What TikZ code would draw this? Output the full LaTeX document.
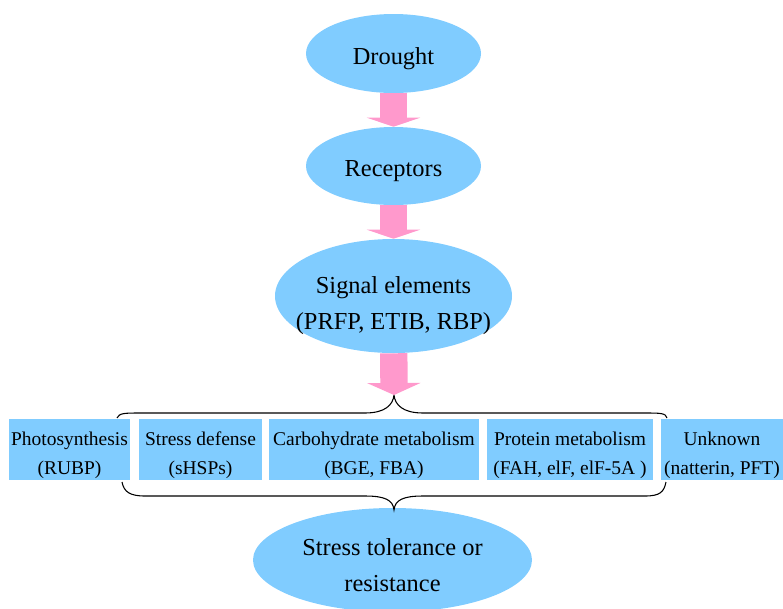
\documentclass[tikz,border=0pt]{standalone}
\usepackage{fontspec}
\setmainfont{Liberation Serif}
\usetikzlibrary{shapes.geometric,arrows.meta}
\definecolor{cellblue}{RGB}{128,204,255}
\definecolor{flowpink}{RGB}{255,153,204}
\begin{document}
\begin{tikzpicture}[x=0.75pt, y=-0.75pt,
  blob/.style={ellipse, fill=cellblue, inner sep=-40pt, align=center, text height=20pt, font=\fontsize{18.3}{27}\selectfont},
  cell/.style={rectangle, fill=cellblue, inner sep=0pt, minimum height=45.75pt, align=center, text height=40.75pt, font=\fontsize{14.6}{21.75}\selectfont},
  flow/.style={draw=flowpink, line width=20.5pt, -{Triangle[width=39.75pt, length=#1]}},
  flow/.default=6.75pt]
  \useasboundingbox (0,0) rectangle (783,608);
  \node[blob, minimum width=131.25pt, minimum height=59.25pt] (drought) at (393.5,53.5) {Drought};
  \node[blob, minimum width=131.25pt, minimum height=58.5pt] (receptors) at (393.5,166) {Receptors};
  \node[blob, minimum width=177.75pt, minimum height=85.5pt, text height=54.5pt] (signal) at (393.5,296) {Signal elements\\(PRFP, ETIB, RBP)};
  \node[blob, minimum width=209.25pt, minimum height=78pt, text height=47pt] (tolerance) at (392.5,560) {Stress tolerance or\\resistance};
  \node[cell, minimum width=90.75pt] (photo) at (69.5,449.5) {Photosynthesis\\(RUBP)};
  \node[cell, minimum width=92.25pt] (defense) at (200.5,449.5) {Stress defense\\(sHSPs)};
  \node[cell, minimum width=157.5pt] (carbo) at (374,449.5) {Carbohydrate metabolism\\(BGE, FBA)};
  \node[cell, minimum width=124.5pt] (protein) at (570,449.5) {Protein metabolism\\(FAH, elF, elF-5A )};
  \node[cell, minimum width=91.5pt] (unknown) at (722,449.5) {Unknown\\(natterin, PFT)};
  \coordinate (topbrace) at (394,395);
  \coordinate (botbrace) at (394,510);
  % braces above and below the boxes
  \draw[line width=0.8pt] (117,418) .. controls (119,413) and (125,413) .. (140,413) -- (365,413)
    .. controls (385,413) and (393,405) .. (topbrace) .. controls (395,405) and (403,413) .. (423,413)
    -- (645,413) .. controls (660,413) and (666,413) .. (667,418);
  \draw[line width=0.8pt] (122,482) .. controls (124,492) and (130,496) .. (145,496) -- (365,496)
    .. controls (385,496) and (393,500) .. (botbrace) .. controls (395,500) and (403,496) .. (423,496)
    -- (645,496) .. controls (660,496) and (664,492) .. (666,482);
  \draw[flow] (drought) -- (receptors);
  \draw[flow] (receptors) -- (signal);
  \draw[flow=9pt] (signal) -- (topbrace);
\end{tikzpicture}
\end{document}
